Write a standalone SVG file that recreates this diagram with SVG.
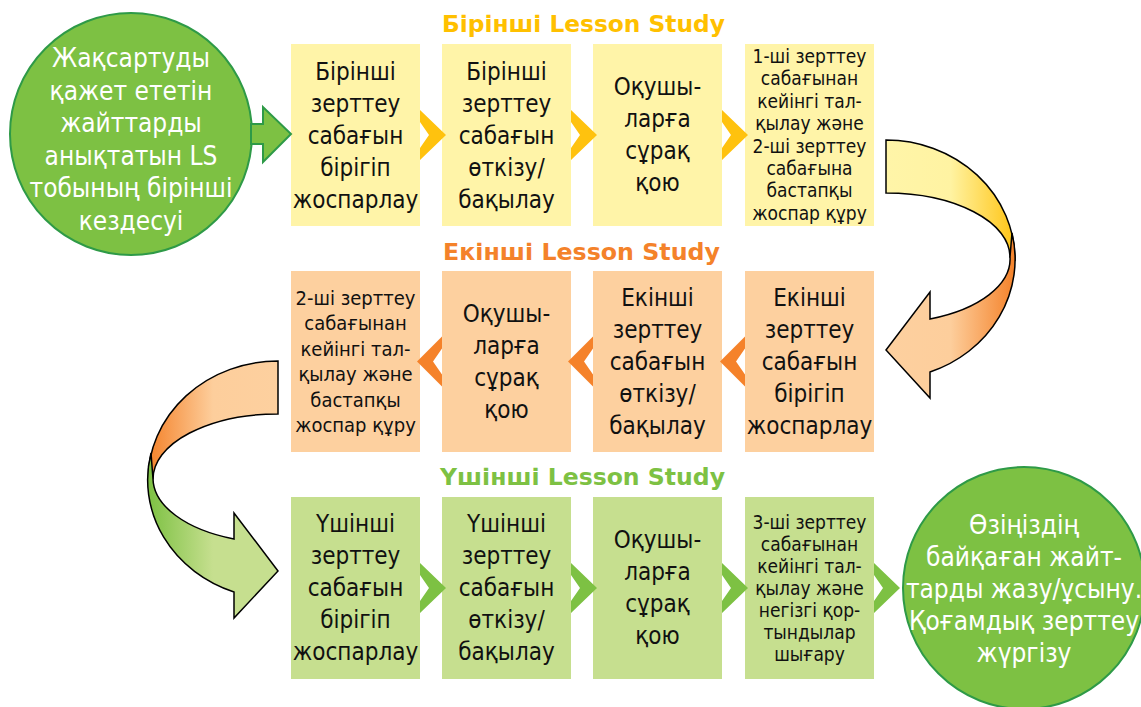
<svg xmlns="http://www.w3.org/2000/svg" width="1141" height="707" viewBox="0 0 1141 707">
<defs>
<style>
.t{font-family:"DejaVu Sans Condensed","DejaVu Sans",sans-serif;font-size:24px;fill:#111;text-anchor:middle}
.s{font-size:19px}
.m{font-size:20px}
.c{font-family:"DejaVu Sans Condensed","DejaVu Sans",sans-serif;font-size:26px;fill:#fff;text-anchor:middle}
.h{font-family:"DejaVu Sans","Verdana",sans-serif;font-weight:bold;font-size:23.5px;text-anchor:middle}
.y{fill:#FFF4A8}.o{fill:#FDD09F}.g{fill:#C6DF8F}
.cy{fill:#FFC20E}.co{fill:#F5822A}.cg{fill:#7DC143}
.circ{fill:#7DC143;stroke:#2E9A47;stroke-width:2}
.arr{stroke:#000;stroke-width:1.5;stroke-linejoin:miter}
</style>
<linearGradient id="gY" gradientUnits="userSpaceOnUse" x1="886" y1="0" x2="1015" y2="0">
<stop offset="0" stop-color="#FFF5A8"/><stop offset="0.5" stop-color="#FFF3A2"/><stop offset="1" stop-color="#FFC414"/>
</linearGradient>
<linearGradient id="gO1" gradientUnits="userSpaceOnUse" x1="886" y1="0" x2="1015" y2="0">
<stop offset="0" stop-color="#FDD09F"/><stop offset="0.5" stop-color="#FDCE9C"/><stop offset="1" stop-color="#F4822A"/>
</linearGradient>
<linearGradient id="gO2" gradientUnits="userSpaceOnUse" x1="148" y1="0" x2="278" y2="0">
<stop offset="0" stop-color="#F4822A"/><stop offset="0.5" stop-color="#FDCE9C"/><stop offset="1" stop-color="#FDD09F"/>
</linearGradient>
<linearGradient id="gG" gradientUnits="userSpaceOnUse" x1="148" y1="0" x2="278" y2="0">
<stop offset="0" stop-color="#7DC143"/><stop offset="0.5" stop-color="#C6DF8F"/><stop offset="1" stop-color="#C6DF8F"/>
</linearGradient>
</defs>
<rect width="1141" height="707" fill="#fff"/>

<g id="titles">
<text class="h" x="583.5" y="32" fill="#FFC000" textLength="283" lengthAdjust="spacingAndGlyphs">Бірінші Lesson Study</text>
<text class="h" x="581.5" y="260" fill="#F4822A" textLength="277" lengthAdjust="spacingAndGlyphs">Екінші Lesson Study</text>
<text class="h" x="582.5" y="485" fill="#7DC143" textLength="285" lengthAdjust="spacingAndGlyphs">Үшінші Lesson Study</text>
</g>

<g id="start">
<circle class="circ" cx="131" cy="134" r="121"/>
<text class="c" x="131" y="67">Жақсартуды</text>
<text class="c" x="131" y="99.5">қажет ететін</text>
<text class="c" x="131" y="132">жайттарды</text>
<text class="c" x="131" y="164.5">анықтатын LS</text>
<text class="c" x="131" y="197">тобының бірінші</text>
<text class="c" x="131" y="229.5">кездесуі</text>
</g>

<g id="r1b1"><rect class="y" x="291" y="44" width="129" height="182"/>
<text class="t" x="355.5" y="80">Бірінші</text><text class="t" x="355.5" y="112">зерттеу</text><text class="t" x="355.5" y="144">сабағын</text><text class="t" x="355.5" y="176">бірігіп</text><text class="t" x="355.5" y="208">жоспарлау</text></g>
<g id="r1b2"><rect class="y" x="442" y="44" width="129" height="182"/>
<text class="t" x="506.5" y="80">Бірінші</text><text class="t" x="506.5" y="112">зерттеу</text><text class="t" x="506.5" y="144">сабағын</text><text class="t" x="506.5" y="176">өткізу/</text><text class="t" x="506.5" y="208">бақылау</text></g>
<g id="r1b3"><rect class="y" x="593" y="44" width="129" height="182"/>
<text class="t" x="657.5" y="95">Оқушы-</text><text class="t" x="657.5" y="127">ларға</text><text class="t" x="657.5" y="159">сұрақ</text><text class="t" x="657.5" y="191">қою</text></g>
<g id="r1b4"><rect class="y" x="745" y="44" width="129" height="182"/>
<text class="t s" x="809.5" y="63">1-ші зерттеу</text><text class="t s" x="809.5" y="85.4">сабағынан</text><text class="t s" x="809.5" y="107.8">кейінгі тал-</text><text class="t s" x="809.5" y="130.2">қылау және</text><text class="t s" x="809.5" y="152.6">2-ші зерттеу</text><text class="t s" x="809.5" y="175">сабағына</text><text class="t s" x="809.5" y="197.4">бастапқы</text><text class="t s" x="809.5" y="219.8">жоспар құру</text></g>

<g id="r2b1"><rect class="o" x="745" y="271" width="129" height="181"/>
<text class="t" x="809.5" y="306">Екінші</text><text class="t" x="809.5" y="338">зерттеу</text><text class="t" x="809.5" y="370">сабағын</text><text class="t" x="809.5" y="402">бірігіп</text><text class="t" x="809.5" y="434">жоспарлау</text></g>
<g id="r2b2"><rect class="o" x="593" y="271" width="129" height="181"/>
<text class="t" x="657.5" y="306">Екінші</text><text class="t" x="657.5" y="338">зерттеу</text><text class="t" x="657.5" y="370">сабағын</text><text class="t" x="657.5" y="402">өткізу/</text><text class="t" x="657.5" y="434">бақылау</text></g>
<g id="r2b3"><rect class="o" x="442" y="271" width="129" height="181"/>
<text class="t" x="506.5" y="322">Оқушы-</text><text class="t" x="506.5" y="354">ларға</text><text class="t" x="506.5" y="386">сұрақ</text><text class="t" x="506.5" y="418">қою</text></g>
<g id="r2b4"><rect class="o" x="291" y="271" width="129" height="181"/>
<text class="t m" x="355.5" y="304.5">2-ші зерттеу</text><text class="t m" x="355.5" y="330">сабағынан</text><text class="t m" x="355.5" y="355.5">кейінгі тал-</text><text class="t m" x="355.5" y="381">қылау және</text><text class="t m" x="355.5" y="406.5">бастапқы</text><text class="t m" x="355.5" y="432">жоспар құру</text></g>

<g id="r3b1"><rect class="g" x="291" y="497" width="129" height="182"/>
<text class="t" x="355.5" y="532">Үшінші</text><text class="t" x="355.5" y="564">зерттеу</text><text class="t" x="355.5" y="596">сабағын</text><text class="t" x="355.5" y="628">бірігіп</text><text class="t" x="355.5" y="660">жоспарлау</text></g>
<g id="r3b2"><rect class="g" x="442" y="497" width="129" height="182"/>
<text class="t" x="506.5" y="532">Үшінші</text><text class="t" x="506.5" y="564">зерттеу</text><text class="t" x="506.5" y="596">сабағын</text><text class="t" x="506.5" y="628">өткізу/</text><text class="t" x="506.5" y="660">бақылау</text></g>
<g id="r3b3"><rect class="g" x="593" y="497" width="129" height="182"/>
<text class="t" x="657.5" y="548">Оқушы-</text><text class="t" x="657.5" y="580">ларға</text><text class="t" x="657.5" y="612">сұрақ</text><text class="t" x="657.5" y="644">қою</text></g>
<g id="r3b4"><rect class="g" x="745" y="497" width="129" height="182"/>
<text class="t s" x="809.5" y="529">3-ші зерттеу</text><text class="t s" x="809.5" y="551">сабағынан</text><text class="t s" x="809.5" y="573">кейінгі тал-</text><text class="t s" x="809.5" y="595">қылау және</text><text class="t s" x="809.5" y="617">негізгі қор-</text><text class="t s" x="809.5" y="639">тындылар</text><text class="t s" x="809.5" y="661">шығару</text></g>

<g id="end">
<circle class="circ" cx="1024" cy="588" r="121"/>
<text class="c" x="1024" y="534">Өзіңіздің</text>
<text class="c" x="1024" y="566">байқаған жайт-</text>
<text class="c" x="1024" y="598">тарды жазу/ұсыну.</text>
<text class="c" x="1024" y="630">Қоғамдық зерттеу</text>
<text class="c" x="1024" y="662">жүргізу</text>
</g>

<g id="connectors">
<path d="M251,124 H263 V107 L291,134 L263,162 V144 H251 Z" fill="#7DC143" stroke="#2E9A47" stroke-width="2"/>
<g class="cy">
<polygon points="420,110 446,135 420,160 420,148 429,135 420,122"/>
<polygon points="571,110 597,135 571,160 571,148 580,135 571,122"/>
<polygon points="722,110 748,135 722,160 722,148 731,135 722,122"/>
</g>
<g class="co">
<polygon points="442,336.5 417,361.5 442,386.5 442,374.5 433,361.5 442,348.5"/>
<polygon points="593,336.5 568,361.5 593,386.5 593,374.5 584,361.5 593,348.5"/>
<polygon points="745,336.5 720,361.5 745,386.5 745,374.5 736,361.5 745,348.5"/>
</g>
<g class="cg">
<polygon points="420,563 446,588 420,613 420,601 429,588 420,575"/>
<polygon points="571,563 597,588 571,613 571,601 580,588 571,575"/>
<polygon points="722,563 748,588 722,613 722,601 731,588 722,575"/>
<polygon points="874,563 900,588 874,613 874,601 883,588 874,575"/>
</g>
<path class="arr" fill="url(#gY)" d="M886,140 A129,120 0 0 1 1015,260 L1010,257 A124,64 0 0 0 886,193 Z"/>
<path class="arr" fill="url(#gO1)" d="M1012,233 A129,120 0 0 1 930,372 L930,398 L886,350 L930,292 L930,319 A124,64 0 0 0 1010,257 Z"/>
<path class="arr" fill="url(#gO2)" d="M278,361 A130,119 0 0 0 148,480 L153,479 A125,65 0 0 1 278,414 Z"/>
<path class="arr" fill="url(#gG)" d="M151,453 A130,119 0 0 0 234,592 L234,618 L278,571 L234,513 L234,539 A125,65 0 0 1 153,479 Z"/>
</g>
</svg>
